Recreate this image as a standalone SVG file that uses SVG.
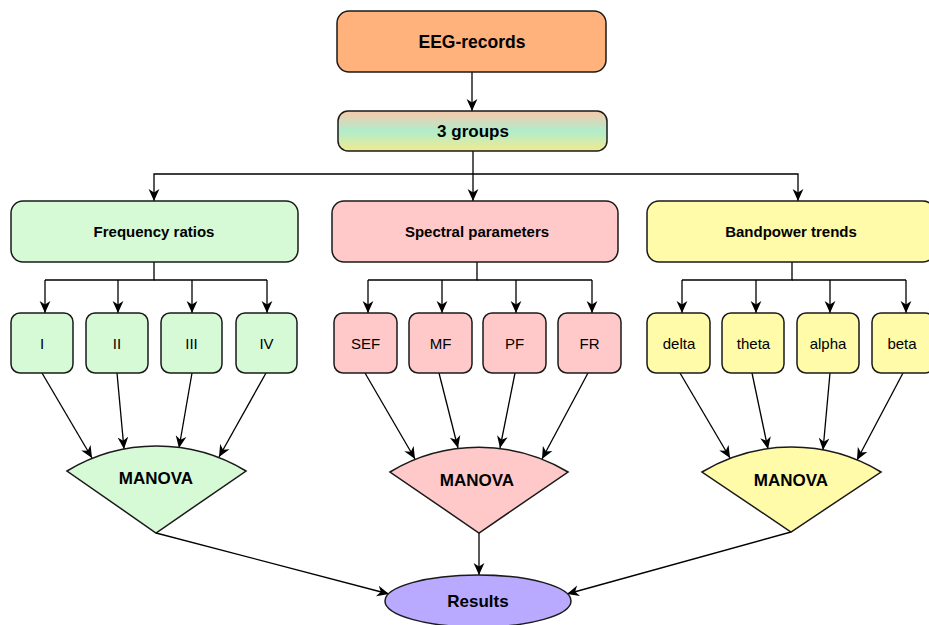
<svg xmlns="http://www.w3.org/2000/svg" width="929" height="625" viewBox="0 0 929 625">
<defs>
<linearGradient id="grp" x1="0" y1="0" x2="0" y2="1">
<stop offset="0" stop-color="#F8C8AA"/>
<stop offset="0.5" stop-color="#B0EDCC"/>
<stop offset="1" stop-color="#F2EA8E"/>
</linearGradient>
<marker id="arr" viewBox="0 0 10 10" refX="10" refY="5" markerWidth="12" markerHeight="12" markerUnits="userSpaceOnUse" orient="auto">
<path d="M0,0.5 L10,5 L0,9.5 L3,5 Z" fill="#000"/>
</marker>
<style>
.box{stroke:#1a1a1a;stroke-width:1.5}
.g{fill:#D6FAD6}
.r{fill:#FFC9C9}
.y{fill:#FFFBA8}
.t{font-family:"Liberation Sans",Arial,sans-serif;text-anchor:middle;dominant-baseline:central;fill:#000}
.b{font-weight:bold}
.c{fill:none;stroke:#000;stroke-width:1.3;marker-end:url(#arr)}
.l{fill:none;stroke:#000;stroke-width:1.3}
</style>
</defs>

<g id="connectors">
<path class="c" d="M472,72 V111"/>
<path class="c" d="M473,151 V201"/>
<path class="c" d="M473,174 H154 V201"/>
<path class="c" d="M473,174 H798 V201"/>
<path class="l" d="M154,262 V280 H45"/>
<path class="l" d="M154,280 H267"/>
<path class="c" d="M45,280 V313"/>
<path class="c" d="M118,280 V313"/>
<path class="c" d="M192,280 V313"/>
<path class="c" d="M267,280 V313"/>
<path class="l" d="M477,262 V280 H368"/>
<path class="l" d="M477,280 H592"/>
<path class="c" d="M368,280 V313"/>
<path class="c" d="M442,280 V313"/>
<path class="c" d="M516,280 V313"/>
<path class="c" d="M592,280 V313"/>
<path class="l" d="M792,262 V280 H682"/>
<path class="l" d="M792,280 H906"/>
<path class="c" d="M682,280 V313"/>
<path class="c" d="M756,280 V313"/>
<path class="c" d="M830,280 V313"/>
<path class="c" d="M906,280 V313"/>
<path class="c" d="M42,373 L92,458"/>
<path class="c" d="M117,373 L124,449"/>
<path class="c" d="M192,373 L179,448"/>
<path class="c" d="M266,373 L219,457"/>
<path class="c" d="M365,373 L415,459"/>
<path class="c" d="M439,373 L458,448"/>
<path class="c" d="M515,373 L500,448"/>
<path class="c" d="M588,373 L542,459"/>
<path class="c" d="M680,373 L730,458"/>
<path class="c" d="M752,373 L768,449"/>
<path class="c" d="M830,373 L823,450"/>
<path class="c" d="M903,373 L857,460"/>
<path class="c" d="M156,533 L389,594"/>
<path class="c" d="M479,533 V575"/>
<path class="c" d="M791,532 L567,594"/>
</g>

<g id="eeg">
<rect class="box" x="337" y="11" width="269" height="61" rx="12" fill="#FFB27B"/>
<text class="t b" x="472" y="42" font-size="17.5">EEG-records</text>
</g>
<g id="groups">
<rect class="box" x="338" y="111" width="269" height="40" rx="10" fill="url(#grp)"/>
<text class="t b" x="473" y="131" font-size="17">3 groups</text>
</g>

<g id="freq">
<rect class="box g" x="11" y="201" width="287" height="61" rx="12"/>
<text class="t b" x="154" y="231" font-size="15">Frequency ratios</text>
</g>
<g id="spec">
<rect class="box r" x="332" y="201" width="286" height="61" rx="12"/>
<text class="t b" x="477" y="231" font-size="15">Spectral parameters</text>
</g>
<g id="band">
<rect class="box y" x="647" y="201" width="288" height="61" rx="12"/>
<text class="t b" x="791" y="231" font-size="15">Bandpower trends</text>
</g>

<g id="n_I"><rect class="box g" x="11" y="313" width="62" height="60" rx="9"/><text class="t" x="42" y="343" font-size="15">I</text></g>
<g id="n_II"><rect class="box g" x="86" y="313" width="62" height="60" rx="9"/><text class="t" x="117" y="343" font-size="15">II</text></g>
<g id="n_III"><rect class="box g" x="161" y="313" width="61" height="60" rx="9"/><text class="t" x="191.5" y="343" font-size="15">III</text></g>
<g id="n_IV"><rect class="box g" x="236" y="313" width="61" height="60" rx="9"/><text class="t" x="266.5" y="343" font-size="15">IV</text></g>

<g id="n_SEF"><rect class="box r" x="334" y="313" width="63" height="60" rx="9"/><text class="t" x="365.5" y="343" font-size="15">SEF</text></g>
<g id="n_MF"><rect class="box r" x="409" y="313" width="63" height="60" rx="9"/><text class="t" x="440.5" y="343" font-size="15">MF</text></g>
<g id="n_PF"><rect class="box r" x="483" y="313" width="63" height="60" rx="9"/><text class="t" x="514.5" y="343" font-size="15">PF</text></g>
<g id="n_FR"><rect class="box r" x="558" y="313" width="63" height="60" rx="9"/><text class="t" x="589.5" y="343" font-size="15">FR</text></g>

<g id="n_delta"><rect class="box y" x="647" y="313" width="63" height="60" rx="9"/><text class="t" x="679" y="343" font-size="15">delta</text></g>
<g id="n_theta"><rect class="box y" x="722" y="313" width="62" height="60" rx="9"/><text class="t" x="753.5" y="343" font-size="15">theta</text></g>
<g id="n_alpha"><rect class="box y" x="797" y="313" width="62" height="60" rx="9"/><text class="t" x="828" y="343" font-size="15">alpha</text></g>
<g id="n_beta"><rect class="box y" x="872" y="313" width="62" height="60" rx="9"/><text class="t" x="902" y="343" font-size="15">beta</text></g>

<g id="manova1">
<path class="box g" d="M67,471 A173,173 0 0 1 246,471 L156,533 Z"/>
<text class="t b" x="156" y="478" font-size="17">MANOVA</text>
</g>
<g id="manova2">
<path class="box r" d="M390,472 A173,173 0 0 1 568,472 L479,533 Z"/>
<text class="t b" x="477" y="480" font-size="17">MANOVA</text>
</g>
<g id="manova3">
<path class="box y" d="M702,472 A173,173 0 0 1 881,472 L791,532 Z"/>
<text class="t b" x="791" y="480" font-size="17">MANOVA</text>
</g>

<g id="results">
<ellipse class="box" cx="478" cy="601" rx="93" ry="26" fill="#B9A9FF"/>
<text class="t b" x="478" y="601" font-size="17">Results</text>
</g>
</svg>
